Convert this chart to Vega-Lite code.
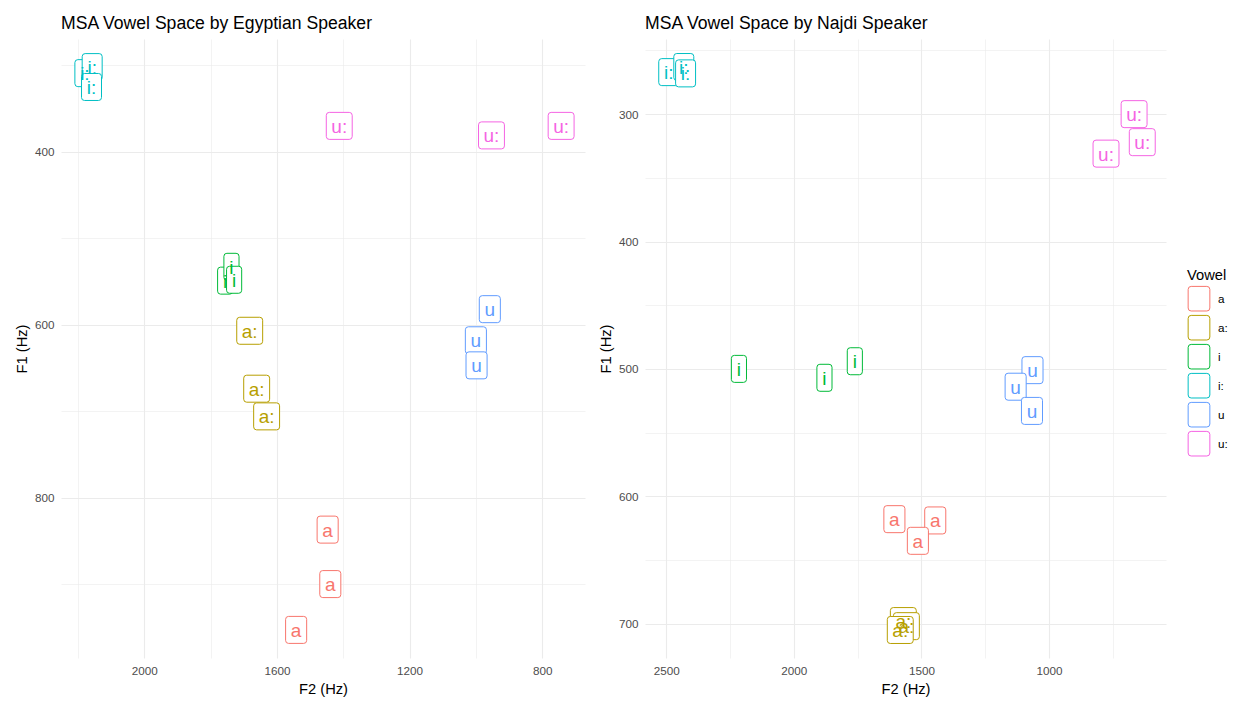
{
  "$schema": "https://vega.github.io/schema/vega-lite/v6.json",
  "padding": {"left": 14, "top": 15, "right": 0, "bottom": 0},
  "spacing": 13,
  "resolve": {"legend": {"color": "independent"}},
  "datasets": {
    "egy": [
      {"vowel": "i:", "F2": 2179, "F1": 309},
      {"vowel": "i:", "F2": 2157, "F1": 302},
      {"vowel": "i:", "F2": 2159, "F1": 325},
      {"vowel": "u:", "F2": 1412, "F1": 370},
      {"vowel": "u:", "F2": 953, "F1": 381},
      {"vowel": "u:", "F2": 743, "F1": 370},
      {"vowel": "i", "F2": 1756, "F1": 549},
      {"vowel": "i", "F2": 1737, "F1": 533},
      {"vowel": "i", "F2": 1729, "F1": 548},
      {"vowel": "u", "F2": 958, "F1": 582},
      {"vowel": "u", "F2": 1000, "F1": 618},
      {"vowel": "u", "F2": 998, "F1": 647},
      {"vowel": "a:", "F2": 1682, "F1": 607},
      {"vowel": "a:", "F2": 1661, "F1": 674},
      {"vowel": "a:", "F2": 1631, "F1": 706},
      {"vowel": "a", "F2": 1447, "F1": 837},
      {"vowel": "a", "F2": 1439, "F1": 900},
      {"vowel": "a", "F2": 1542, "F1": 953}
    ],
    "najdi": [
      {"vowel": "i:", "F2": 2490, "F1": 267},
      {"vowel": "i:", "F2": 2431, "F1": 263},
      {"vowel": "i:", "F2": 2424, "F1": 268},
      {"vowel": "u:", "F2": 667, "F1": 300},
      {"vowel": "u:", "F2": 635, "F1": 322},
      {"vowel": "u:", "F2": 777, "F1": 331},
      {"vowel": "i", "F2": 2215, "F1": 500},
      {"vowel": "i", "F2": 1880, "F1": 507},
      {"vowel": "i", "F2": 1761, "F1": 494},
      {"vowel": "u", "F2": 1065, "F1": 501},
      {"vowel": "u", "F2": 1131, "F1": 514},
      {"vowel": "u", "F2": 1067, "F1": 533},
      {"vowel": "a", "F2": 1606, "F1": 618},
      {"vowel": "a", "F2": 1446, "F1": 619},
      {"vowel": "a", "F2": 1514, "F1": 635},
      {"vowel": "a:", "F2": 1571, "F1": 698},
      {"vowel": "a:", "F2": 1559, "F1": 702},
      {"vowel": "a:", "F2": 1583, "F1": 705}
    ]
  },
  "hconcat": [
    {
      "title": "MSA Vowel Space by Egyptian Speaker",
      "width": 524,
      "height": 619,
      "data": {"name": "egy"},
      "encoding": {
        "x": {"field": "F2", "type": "quantitative", "title": "F2 (Hz)",
          "scale": {"domain": [671, 2251], "reverse": true, "nice": false, "zero": false},
          "axis": {"values": [800, 1000, 1200, 1400, 1600, 1800, 2000, 2200], "format": "d",
            "labelExpr": "datum.value % 400 == 0 ? datum.label : ''",
            "gridWidth": {"condition": {"test": "datum.value % 400 == 0", "value": 1.1}, "value": 0.6}}},
        "y": {"field": "F1", "type": "quantitative", "title": "F1 (Hz)",
          "scale": {"domain": [269.5, 985.5], "reverse": true, "nice": false, "zero": false},
          "axis": {"values": [300, 400, 500, 600, 700, 800, 900], "format": "d",
            "labelExpr": "datum.value % 200 == 0 ? datum.label : ''",
            "gridWidth": {"condition": {"test": "datum.value % 200 == 0", "value": 1.1}, "value": 0.6}}}
      },
      "layer": [
        {
          "mark": {"type": "point", "filled": false, "fill": "white", "fillOpacity": 1, "strokeWidth": 1, "opacity": 1, "size": 729},
          "encoding": {
            "color": {"field": "vowel", "type": "nominal", "legend": null,
              "scale": {"domain": ["a", "a:", "i", "i:", "u", "u:"], "range": ["#F8766D", "#B79F00", "#00BA38", "#00BFC4", "#619CFF", "#F564E3"]}},
            "shape": {"field": "vowel", "type": "nominal", "legend": null,
              "scale": {"domain": ["a", "a:", "i", "i:", "u", "u:"],
                "range": [
                  "M-0.56,-1L0.56,-1Q0.78,-1 0.78,-0.78L0.78,0.78Q0.78,1 0.56,1L-0.56,1Q-0.78,1 -0.78,0.78L-0.78,-0.78Q-0.78,-1 -0.56,-1Z",
                  "M-0.74,-1L0.74,-1Q0.96,-1 0.96,-0.78L0.96,0.78Q0.96,1 0.74,1L-0.74,1Q-0.96,1 -0.96,0.78L-0.96,-0.78Q-0.96,-1 -0.74,-1Z",
                  "M-0.34,-1L0.34,-1Q0.56,-1 0.56,-0.78L0.56,0.78Q0.56,1 0.34,1L-0.34,1Q-0.56,1 -0.56,0.78L-0.56,-0.78Q-0.56,-1 -0.34,-1Z",
                  "M-0.52,-1L0.52,-1Q0.74,-1 0.74,-0.78L0.74,0.78Q0.74,1 0.52,1L-0.52,1Q-0.74,1 -0.74,0.78L-0.74,-0.78Q-0.74,-1 -0.52,-1Z",
                  "M-0.56,-1L0.56,-1Q0.78,-1 0.78,-0.78L0.78,0.78Q0.78,1 0.56,1L-0.56,1Q-0.78,1 -0.78,0.78L-0.78,-0.78Q-0.78,-1 -0.56,-1Z",
                  "M-0.74,-1L0.74,-1Q0.96,-1 0.96,-0.78L0.96,0.78Q0.96,1 0.74,1L-0.74,1Q-0.96,1 -0.96,0.78L-0.96,-0.78Q-0.96,-1 -0.74,-1Z"
                ]}}
          }
        },
        {
          "mark": {"type": "text", "fontSize": 19, "baseline": "middle", "align": "center", "dy": 1},
          "encoding": {
            "text": {"field": "vowel"},
            "fill": {"field": "vowel", "type": "nominal", "legend": null,
              "scale": {"domain": ["a", "a:", "i", "i:", "u", "u:"], "range": ["#F8766D", "#B79F00", "#00BA38", "#00BFC4", "#619CFF", "#F564E3"]}}
          }
        }
      ]
    },
    {
      "title": "MSA Vowel Space by Najdi Speaker",
      "width": 521,
      "height": 619,
      "data": {"name": "najdi"},
      "encoding": {
        "x": {"field": "F2", "type": "quantitative", "title": "F2 (Hz)",
          "scale": {"domain": [542, 2583], "reverse": true, "nice": false, "zero": false},
          "axis": {"values": [750, 1000, 1250, 1500, 1750, 2000, 2250, 2500], "format": "d",
            "labelExpr": "datum.value % 500 == 0 ? datum.label : ''",
            "gridWidth": {"condition": {"test": "datum.value % 500 == 0", "value": 1.1}, "value": 0.6}}},
        "y": {"field": "F1", "type": "quantitative", "title": "F1 (Hz)",
          "scale": {"domain": [241, 727], "reverse": true, "nice": false, "zero": false},
          "axis": {"values": [250, 300, 350, 400, 450, 500, 550, 600, 650, 700], "format": "d",
            "labelExpr": "datum.value % 100 == 0 ? datum.label : ''",
            "gridWidth": {"condition": {"test": "datum.value % 100 == 0", "value": 1.1}, "value": 0.6}}}
      },
      "layer": [
        {
          "mark": {"type": "point", "filled": false, "fill": "white", "fillOpacity": 1, "strokeWidth": 1, "opacity": 1, "size": 729},
          "encoding": {
            "color": {"field": "vowel", "type": "nominal",
              "scale": {"domain": ["a", "a:", "i", "i:", "u", "u:"], "range": ["#F8766D", "#B79F00", "#00BA38", "#00BFC4", "#619CFF", "#F564E3"]},
              "legend": {"title": "Vowel", "orient": "none", "legendX": 542, "legendY": 229,
                "symbolType": "M-0.70,-1.1L0.70,-1.1Q0.97,-1.1 0.97,-0.83L0.97,0.83Q0.97,1.1 0.70,1.1L-0.70,1.1Q-0.97,1.1 -0.97,0.83L-0.97,-0.83Q-0.97,-1.1 -0.70,-1.1Z",
                "symbolSize": 500, "symbolFillColor": "white", "symbolStrokeWidth": 1, "rowPadding": -1, "labelOffset": 7,
                "encode": {"symbols": {"size": {"value": 500}, "fill": {"value": "white"}, "fillOpacity": {"value": 1}}}}},
            "shape": {"field": "vowel", "type": "nominal", "legend": null,
              "scale": {"domain": ["a", "a:", "i", "i:", "u", "u:"],
                "range": [
                  "M-0.56,-1L0.56,-1Q0.78,-1 0.78,-0.78L0.78,0.78Q0.78,1 0.56,1L-0.56,1Q-0.78,1 -0.78,0.78L-0.78,-0.78Q-0.78,-1 -0.56,-1Z",
                  "M-0.74,-1L0.74,-1Q0.96,-1 0.96,-0.78L0.96,0.78Q0.96,1 0.74,1L-0.74,1Q-0.96,1 -0.96,0.78L-0.96,-0.78Q-0.96,-1 -0.74,-1Z",
                  "M-0.34,-1L0.34,-1Q0.56,-1 0.56,-0.78L0.56,0.78Q0.56,1 0.34,1L-0.34,1Q-0.56,1 -0.56,0.78L-0.56,-0.78Q-0.56,-1 -0.34,-1Z",
                  "M-0.52,-1L0.52,-1Q0.74,-1 0.74,-0.78L0.74,0.78Q0.74,1 0.52,1L-0.52,1Q-0.74,1 -0.74,0.78L-0.74,-0.78Q-0.74,-1 -0.52,-1Z",
                  "M-0.56,-1L0.56,-1Q0.78,-1 0.78,-0.78L0.78,0.78Q0.78,1 0.56,1L-0.56,1Q-0.78,1 -0.78,0.78L-0.78,-0.78Q-0.78,-1 -0.56,-1Z",
                  "M-0.74,-1L0.74,-1Q0.96,-1 0.96,-0.78L0.96,0.78Q0.96,1 0.74,1L-0.74,1Q-0.96,1 -0.96,0.78L-0.96,-0.78Q-0.96,-1 -0.74,-1Z"
                ]}}
          }
        },
        {
          "mark": {"type": "text", "fontSize": 19, "baseline": "middle", "align": "center", "dy": 1},
          "encoding": {
            "text": {"field": "vowel"},
            "fill": {"field": "vowel", "type": "nominal", "legend": null,
              "scale": {"domain": ["a", "a:", "i", "i:", "u", "u:"], "range": ["#F8766D", "#B79F00", "#00BA38", "#00BFC4", "#619CFF", "#F564E3"]}}
          }
        }
      ]
    }
  ],
  "config": {
    "view": {"stroke": null},
    "font": "Liberation Sans",
    "background": "white",
    "title": {"fontSize": 17.6, "fontWeight": "normal", "anchor": "start", "frame": "group", "color": "black", "offset": 6},
    "axis": {"domain": false, "ticks": false, "labelFontSize": 11.7, "labelColor": "#4D4D4D", "titleFontSize": 14.7, "titleFontWeight": "normal", "titleColor": "black", "gridColor": "#EBEBEB", "labelPadding": 7, "titlePadding": 5},
    "legend": {"titleFontSize": 14.7, "titleFontWeight": "normal", "titleColor": "black", "labelFontSize": 11.7, "labelColor": "black", "symbolSize": 500, "symbolStrokeWidth": 1, "rowPadding": -1, "labelOffset": 7, "titlePadding": 4}
  }
}
